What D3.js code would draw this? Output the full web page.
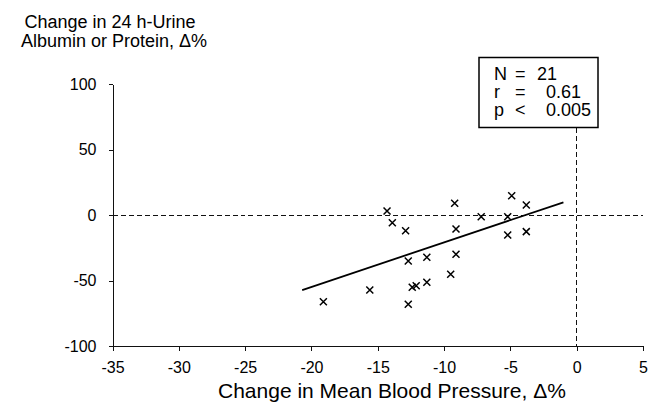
<!DOCTYPE html>
<html lang="en">
<head>
  <meta charset="UTF-8">
  <title>Change in Urine Albumin vs Mean Blood Pressure</title>
  <script src="https://d3js.org/d3.v7.min.js"></script>
  <style>
    body {
      margin: 0;
      background: #fff;
      font-family: "Liberation Sans", Arial, sans-serif;
    }

    .axis path,
    .axis line {
      stroke: #111;
      shape-rendering: crispEdges;
    }

    .axis text {
      font-size: 16px;
      fill: #000;
    }

    .dash {
      stroke: #111;
      stroke-width: 1;
      stroke-dasharray: 5,3;
      shape-rendering: crispEdges;
    }

    .cross {
      stroke: #000;
      stroke-width: 1.5;
    }
  </style>
</head>
<body>
  <div id="chart"></div>

  <script>
    // Data: % change in MBP vs % change in urine albumin/protein
    const bpChange = [-19.1, -15.6, -14.3, -13.9, -12.9, -12.7, -12.7, -12.4, -12.1, -11.3, -11.3,
                      -9.5, -9.2, -9.1, -9.1, -7.2, -5.2, -5.2, -4.9, -3.8, -3.8];
    const albChange = [-66.2, -57.3, 3.1, -5.9, -12.0, -35.1, -68.2, -55.2, -54.0, -32.3, -51.4,
                       -45.3, 8.9, -10.7, -30.0, -1.3, -1.3, -15.3, 14.7, 7.6, -12.7];

    // Regression line end points
    const fitX = [-20.7, -1.0];
    const fitY = [-57.3, 9.7];

    const xTicks = [-35, -30, -25, -20, -15, -10, -5, 0, 5];
    const yTicks = [-100, -50, 0, 50, 100];

    const statLabels = ["N", "r", "p"];
    const statOps = ["=", "=", "<"];
    const statValues = ["21", "0.61", "0.005"];

    const width = 648;
    const height = 411;

    const x = d3.scaleLinear().domain([-35, 5]).range([112.5, 643]);
    const y = d3.scaleLinear().domain([-100, 100]).range([346, 84]);

    const svg = d3.select("#chart")
                  .append("svg")
                  .attr("width", width)
                  .attr("height", height);

    // Dashed reference lines at 0
    svg.append("line")
       .attr("class", "dash")
       .attr("x1", x(-35)).attr("x2", x(5))
       .attr("y1", y(0)).attr("y2", y(0));

    svg.append("line")
       .attr("class", "dash")
       .attr("x1", x(0)).attr("x2", x(0))
       .attr("y1", 128).attr("y2", y(-100));

    // Axes (plain hyphen for negatives, like the original)
    const fmt = d => String(d);
    svg.append("g")
       .attr("class", "axis")
       .attr("transform", `translate(0,${y(-100)})`)
       .call(d3.axisBottom(x).tickValues(xTicks).tickFormat(fmt)
               .tickSize(5).tickPadding(11).tickSizeOuter(0));

    svg.append("g")
       .attr("class", "axis")
       .attr("transform", `translate(${x(-35)},0)`)
       .call(d3.axisLeft(y).tickValues(yTicks).tickFormat(fmt)
               .tickSize(4).tickPadding(12).tickSizeOuter(0));

    // Regression line
    const fit = fitX.map((v, i) => ({ x: v, y: fitY[i] }));
    svg.append("path")
       .datum(fit)
       .attr("d", d3.line().x(d => x(d.x)).y(d => y(d.y)))
       .style("fill", "none")
       .style("stroke", "#000")
       .style("stroke-width", 1.8);

    // Points drawn as crosses
    const pts = bpChange.map((v, i) => ({ x: v, y: albChange[i] }));
    const s = 3.5;
    svg.selectAll(".cross")
       .data(pts)
       .enter()
       .append("path")
       .attr("class", "cross")
       .attr("d", d => {
         const cx = x(d.x), cy = y(d.y);
         return `M${cx - s},${cy - s}L${cx + s},${cy + s}M${cx - s},${cy + s}L${cx + s},${cy - s}`;
       });

    // Stats box
    svg.append("rect")
       .attr("x", 479).attr("y", 57.5)
       .attr("width", 119).attr("height", 70)
       .style("fill", "#fff")
       .style("stroke", "#000")
       .style("stroke-width", 1.5);

    const stats = svg.append("g").style("font-size", "18px");
    statLabels.forEach((lab, i) => {
      const by = 79.5 + i * 18.4;
      stats.append("text").attr("x", 494).attr("y", by).text(lab);
      stats.append("text").attr("x", 515).attr("y", by).text(statOps[i]);
      stats.append("text").attr("x", i === 0 ? 537 : 546).attr("y", by).text(statValues[i]);
    });

    // Y axis title
    svg.append("text")
       .attr("x", 110).attr("y", 28)
       .attr("text-anchor", "middle")
       .style("font-size", "18px")
       .text("Change in 24 h-Urine");

    svg.append("text")
       .attr("x", 114).attr("y", 47)
       .attr("text-anchor", "middle")
       .style("font-size", "18px")
       .text("Albumin or Protein, \u0394%");

    // X axis title
    svg.append("text")
       .attr("x", 218).attr("y", 398)
       .style("font-size", "21px")
       .text("Change in Mean Blood Pressure, \u0394%");
  </script>
</body>
</html>
